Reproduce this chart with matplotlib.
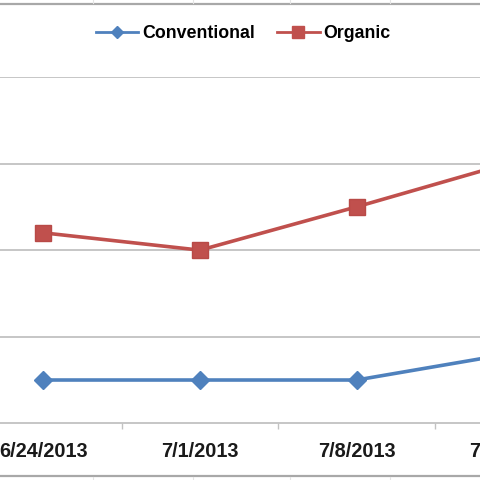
import matplotlib.pyplot as plt
from matplotlib.lines import Line2D

# weekly prices
dates = ["6/24/2013", "7/1/2013", "7/8/2013", "7/15/2013"]
conventional = [0.50, 0.50, 0.50, 0.81]
organic = [2.20, 2.00, 2.50, 3.02]
grid_steps = [1, 2, 3, 4]

blue = "#4F81BD"
red = "#C0504D"
font = "Liberation Sans"

W = H = 480.0
fig = plt.figure(figsize=(4.8, 4.8), dpi=100)

# plot area is wider than the crop (Excel chart cut off at both sides)
left_px, right_px = -35.0, 591.5
bottom_px, top_px = 423.3, 77.0
ax = fig.add_axes([left_px / W, 1 - bottom_px / H,
                   (right_px - left_px) / W, (bottom_px - top_px) / H])

x = list(range(len(dates)))
ax.plot(x, conventional, color=blue, lw=2.6, marker="D", ms=9.5,
        mec=blue, mfc=blue, solid_joinstyle="round", clip_on=False)
ax.plot(x, organic, color=red, lw=2.6, marker="s", ms=11,
        mec="#B84A47", mfc=red, solid_joinstyle="round", clip_on=False)

ax.set_xlim(-0.5, len(dates) - 0.5)
ax.set_ylim(0, 4)

# gridlines
for g in grid_steps:
    ax.axhline(g, color="#C2C2C2", lw=1.3, zorder=0)

for s in ["top", "right", "left"]:
    ax.spines[s].set_visible(False)
ax.spines["bottom"].set_color("#C2C2C2")
ax.spines["bottom"].set_linewidth(1.3)
ax.set_yticks([])

# tick marks between categories, labels under categories
ax.set_xticks([i + 0.5 for i in x[:-1]])
ax.set_xticklabels([])
ax.tick_params(axis="x", which="major", length=4.5, width=1, color="#C2C2C2")
ax.set_xticks(x, minor=True)
ax.set_xticklabels(dates, minor=True, fontfamily=font, fontweight="bold",
                   fontsize=14.3, color="#1a1a1a")
ax.tick_params(axis="x", which="minor", length=0, pad=13.5)

# legend above plot
handles = [
    Line2D([], [], color=blue, lw=2, marker="D", ms=6.5, mfc=blue, mec=blue),
    Line2D([], [], color=red, lw=2, marker="s", ms=9, mfc=red, mec=red),
]
fig.legend(handles, ["Conventional", "Organic"], loc="center",
           bbox_to_anchor=(243 / W, 1 - 34 / H), ncol=2, frameon=False,
           borderpad=0, handlelength=2.4, handletextpad=0.2,
           columnspacing=1.25,
           prop={"family": font, "weight": "bold", "size": 12.8})

# chart border edges and faint sheet cell lines outside them
for y in [3.5, 475.5]:
    fig.add_artist(Line2D([0, 1], [1 - y / H, 1 - y / H],
                          transform=fig.transFigure, color="#A8A8A8", lw=1.6))
for cx in [93, 193, 290, 390]:
    fig.add_artist(Line2D([cx / W, cx / W], [1, 1 - 2.5 / H],
                          transform=fig.transFigure, color="#E4E4E4", lw=0.8))
    fig.add_artist(Line2D([cx / W, cx / W], [0, 3.5 / H],
                          transform=fig.transFigure, color="#E4E4E4", lw=0.8))

fig.savefig("out.png", dpi=100)
